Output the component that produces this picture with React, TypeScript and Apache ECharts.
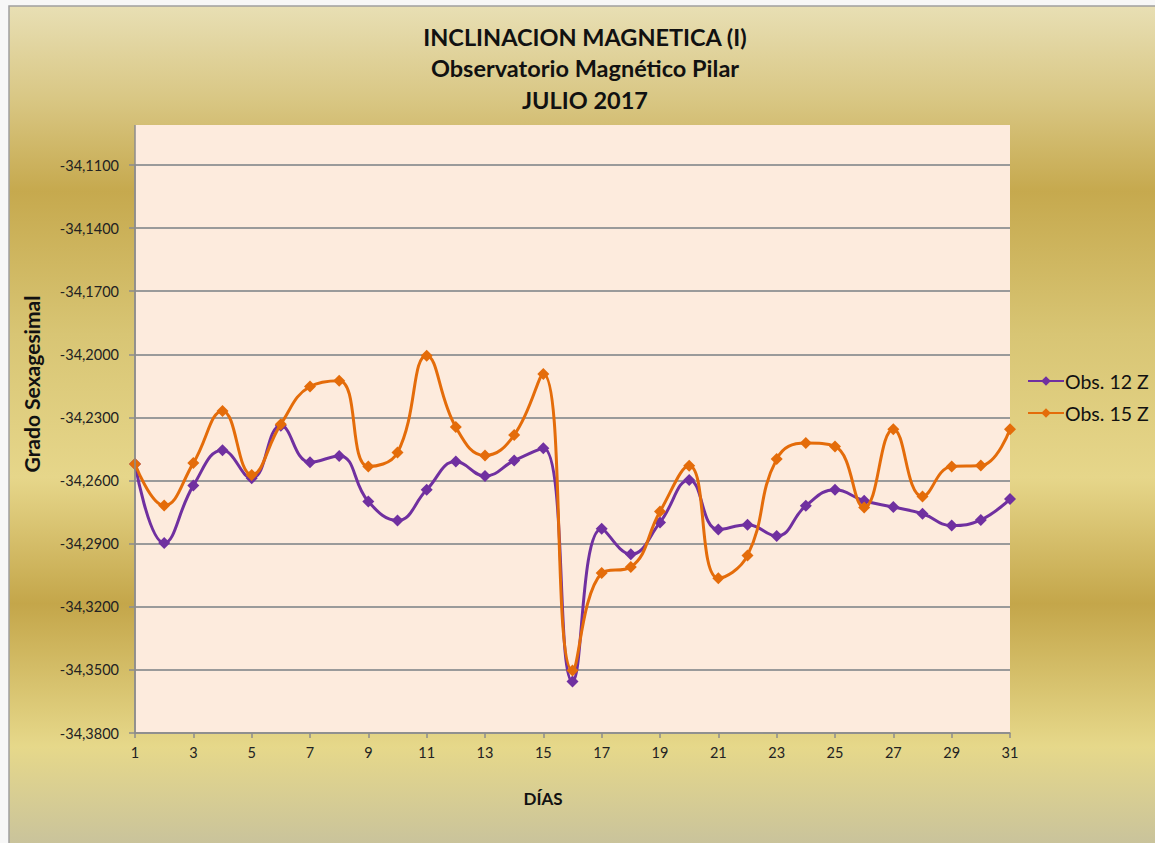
import React, { useEffect, useRef } from "react";
import * as echarts from "echarts";

const days: string[] = Array.from({ length: 31 }, (_, i) => String(i + 1));

const obs12: number[] = [
  -34.2521, -34.2897, -34.2624, -34.2456, -34.2589, -34.234, -34.2513, -34.2483,
  -34.27, -34.279, -34.2644, -34.251, -34.2578, -34.2505, -34.2446, -34.3555,
  -34.2829, -34.295, -34.2799, -34.2597, -34.2833, -34.281, -34.2863, -34.272,
  -34.2644, -34.2696, -34.2726, -34.2758, -34.2814, -34.2787, -34.2688,
];

const obs15: number[] = [
  -34.2521, -34.2719, -34.2517, -34.2269, -34.2573, -34.2332, -34.2153, -34.2125,
  -34.2533, -34.2467, -34.2007, -34.2346, -34.2481, -34.2384, -34.2093, -34.3503,
  -34.304, -34.3011, -34.2747, -34.253, -34.3064, -34.2956, -34.2498, -34.2422,
  -34.2438, -34.2728, -34.2356, -34.2676, -34.2533, -34.2529, -34.2356,
];

const titleLines: string[] = [
  "INCLINACION MAGNETICA (I)",
  "Observatorio Magnético Pilar",
  "JULIO 2017",
];

const yAxisTitle = "Grado Sexagesimal";
const xAxisTitle = "DÍAS";

const FONT = "Lato, 'Open Sans', sans-serif";

export default function App() {
  const ref = useRef<HTMLDivElement>(null);

  useEffect(() => {
    if (!ref.current) return;
    const chart = echarts.init(ref.current, undefined, { renderer: "svg" });
    const option: any = {
      animation: false,
      backgroundColor: "#f7f7f7",
      textStyle: { fontFamily: FONT },
      graphic: [
        {
          type: "rect",
          z: -20,
          silent: true,
          shape: { x: 9, y: 6, width: 1150, height: 842 },
          style: {
            fill: new echarts.graphic.LinearGradient(0, 0, 0, 1, [
              { offset: 0, color: "#e8dfb4" },
              { offset: 0.11, color: "#d9c784" },
              { offset: 0.22, color: "#c6a94e" },
              { offset: 0.39, color: "#d8c574" },
              { offset: 0.56, color: "#e6d68a" },
              { offset: 0.71, color: "#c4a64a" },
              { offset: 0.88, color: "#e6d88a" },
              { offset: 1, color: "#c8c29c" },
            ]),
            stroke: "#a0a0a0",
            lineWidth: 1.5,
          },
        },
        {
          type: "rect",
          z: -10,
          silent: true,
          shape: { x: 135, y: 125, width: 875, height: 608 },
          style: { fill: "#fdebdd" },
        },
        {
          type: "line",
          z: 5,
          silent: true,
          shape: { x1: 135, y1: 125, x2: 135, y2: 733 },
          style: { stroke: "#8c8c8c", lineWidth: 1.5 },
        },
        {
          type: "text",
          z: 5,
          x: 31,
          y: 384,
          rotation: Math.PI / 2,
          style: {
            text: yAxisTitle,
            fontFamily: FONT,
            fontWeight: "bold",
            fontSize: 21,
            fill: "#111",
            align: "center",
            verticalAlign: "middle",
          },
        },
        {
          type: "text",
          z: 5,
          x: 543,
          y: 798,
          style: {
            text: xAxisTitle,
            fontFamily: FONT,
            fontWeight: "bold",
            fontSize: 17,
            fill: "#111",
            align: "center",
            verticalAlign: "middle",
          },
        },
      ],
      title: {
        text: titleLines.join("\n"),
        left: 585,
        top: 21,
        padding: 0,
        textAlign: "center",
        textStyle: {
          fontFamily: FONT,
          fontWeight: "bold",
          fontSize: 23.5,
          lineHeight: 31.5,
          color: "#111",
        },
      },
      legend: {
        orient: "vertical",
        left: 1022,
        top: 366,
        itemWidth: 36,
        itemHeight: 12,
        itemGap: 12,
        textStyle: { fontFamily: FONT, fontSize: 19.5, color: "#111", padding: [0, 0, 0, -4] },
        data: ["Obs. 12 Z", "Obs. 15 Z"],
      },
      grid: { left: 135, right: 145, top: 165, bottom: 110, containLabel: false },
      xAxis: {
        type: "category",
        data: days,
        boundaryGap: false,
        axisLine: { lineStyle: { color: "#8c8c8c", width: 1.5 } },
        axisTick: { show: true, interval: 1, length: 5, lineStyle: { color: "#8c8c8c", width: 1.5 } },
        axisLabel: { interval: 1, fontSize: 14.5, color: "#222", margin: 12, fontFamily: FONT },
      },
      yAxis: {
        type: "value",
        min: -34.38,
        max: -34.11,
        interval: 0.03,
        axisLine: { show: true, lineStyle: { color: "#8c8c8c", width: 1.5 } },
        axisTick: { show: true, length: 6, lineStyle: { color: "#8c8c8c", width: 1.5 } },
        axisLabel: {
          fontSize: 14.5,
          color: "#222",
          margin: 16,
          fontFamily: FONT,
          formatter: (v: number) => v.toFixed(4).replace(".", ","),
        },
        splitLine: { show: true, lineStyle: { color: "#9a9a9a", width: 2 } },
      },
      series: [
        {
          name: "Obs. 12 Z",
          type: "line",
          data: obs12,
          smooth: 0.45,
          symbol: "diamond",
          symbolSize: 12,
          lineStyle: { color: "#7030a0", width: 3 },
          itemStyle: { color: "#7030a0" },
          z: 3,
        },
        {
          name: "Obs. 15 Z",
          type: "line",
          data: obs15,
          smooth: 0.45,
          symbol: "diamond",
          symbolSize: 12,
          lineStyle: { color: "#e46c0a", width: 3 },
          itemStyle: { color: "#e46c0a" },
          z: 4,
        },
      ],
    };
    chart.setOption(option);
    return () => chart.dispose();
  }, []);

  return (
    <div
      ref={ref}
      style={{ position: "fixed", left: 0, top: 0, width: 1155, height: 843 }}
    />
  );
}
